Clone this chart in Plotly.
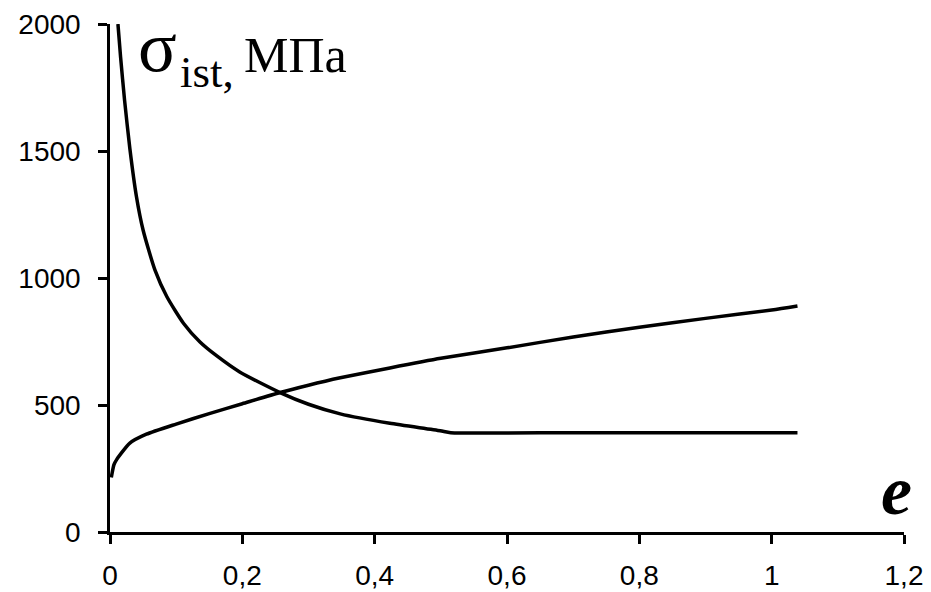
import plotly.graph_objects as go

# Strain (e) and true stress (MPa) for the two curves
e_falling = [0.012, 0.016, 0.022, 0.030, 0.040, 0.050, 0.068, 0.086, 0.111,
             0.136, 0.161, 0.196, 0.257, 0.300, 0.348, 0.423, 0.499, 0.515,
             0.70, 0.90, 1.039]
s_falling = [2000, 1870, 1700, 1510, 1320, 1189, 1031, 926, 822,
             748, 694, 630, 549, 503, 465, 428, 399, 391,
             391, 391, 391]

e_rising = [0.002, 0.006, 0.010, 0.030, 0.055, 0.100, 0.150, 0.200, 0.257,
            0.300, 0.348, 0.423, 0.500, 0.600, 0.700, 0.800, 0.900, 1.000,
            1.039]
s_rising = [215, 265, 285, 350, 385, 425, 466, 505, 549,
            578, 607, 646, 684, 725, 768, 806, 841, 874,
            890]

x_ticks = [0, 0.2, 0.4, 0.6, 0.8, 1.0, 1.2]
x_tick_text = ["0", "0,2", "0,4", "0,6", "0,8", "1", "1,2"]
y_ticks = [0, 500, 1000, 1500, 2000]
y_tick_text = ["0", "500", "1000", "1500", "2000"]

W, H = 931, 592
ML, MR, MT, MB = 110, 27, 24, 60
PW, PH = W - ML - MR, H - MT - MB


def px(xp):
    return (xp - ML) / PW


def py(yp):
    return (H - MB - yp) / PH


fig = go.Figure()
for ex, sy in ((e_falling, s_falling), (e_rising, s_rising)):
    fig.add_trace(go.Scatter(x=ex, y=sy, mode="lines",
                             line=dict(color="black", width=3.5,
                                       shape="spline", smoothing=0.6),
                             showlegend=False, hoverinfo="skip"))

tick_font = dict(family="Liberation Sans", size=28, color="black")
serif = "Liberation Serif"

axis_common = dict(showgrid=False, zeroline=False, showline=True,
                   linecolor="black", linewidth=2.5, ticks="outside",
                   ticklen=9, tickwidth=2.5, tickcolor="black",
                   tickfont=tick_font, automargin=False)

fig.update_layout(
    width=W, height=H,
    margin=dict(l=ML, r=MR, t=MT, b=MB),
    paper_bgcolor="white", plot_bgcolor="white",
    xaxis=dict(range=[0, 1.2], tickvals=x_ticks, ticktext=x_tick_text,
               ticklabelstandoff=8, **axis_common),
    yaxis=dict(range=[0, 2000], tickvals=y_ticks, ticktext=y_tick_text,
               ticklabelstandoff=12, **axis_common),
    annotations=[
        dict(text="σ", xref="paper", yref="paper", x=px(136), y=py(47),
             xanchor="left", yanchor="middle", showarrow=False,
             font=dict(family=serif, size=72, color="black")),
        dict(text="ist,", xref="paper", yref="paper", x=px(178), y=py(72),
             xanchor="left", yanchor="middle", showarrow=False,
             font=dict(family=serif, size=45, color="black")),
        dict(text="МПа", xref="paper", yref="paper", x=px(242), y=py(55),
             xanchor="left", yanchor="middle", showarrow=False,
             font=dict(family=serif, size=50, color="black")),
        dict(text="<b><i>e</i></b>", xref="paper", yref="paper",
             x=px(896), y=py(490), xanchor="center", yanchor="middle",
             showarrow=False,
             font=dict(family=serif, size=70, color="black")),
    ],
)

fig.write_html("out.html")
